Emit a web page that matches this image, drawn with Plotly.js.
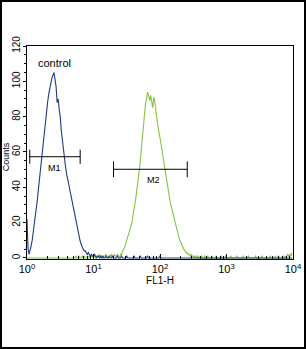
<!DOCTYPE html>
<html>
<head>
<meta charset="utf-8">
<script src="https://cdn.plot.ly/plotly-3.0.1.min.js"></script>
<style>
html,body{margin:0;padding:0;background:#fff;}
#frame{width:306px;height:349px;border:2px solid #000;box-sizing:border-box;}
#chart{width:302px;height:345px;}
</style>
</head>
<body>
<div id="frame"><div id="chart"></div></div>
<script>
// 256-channel histograms over 4 decades (channel i -> FL1-H = 10^(i/64))
const channelsPerDecade = 64;
const controlCounts = [
22,5,2,4,7,10,14,19,23,28,
33,39,45,50,56,62,68,73,79,84,
89,93,97,99,102,104,105,101,97,88,
90,84,80,72,66,62,57,52,48,45,
41,38,35,32,29,26,23,20,17,14,
12,10,8,6,5,4,4,3,2,3,
2,1,2,1,1,2,1,0,1,1,
0,1,0,1,0,0,1,0,0,1,
0,0,1,0,0,0,0,1,0,0,
0,1,0,0,0,0,1,0,0,0,
0,0,0,1,0,0,0,0,0,1,
0,0,0,0,0,0,1,0,0,0,
0,0,0,0,0,0,0,0,1,0,
0,0,0,0,0,0,0,0,0,0,
0,0,0,0,0,0,0,0,0,0,
0,0,0,0,0,0,0,0,0,0,
0,0,0,0,0,0,0,0,0,0,
0,0,0,0,0,0,0,0,0,0,
0,0,0,0,0,0,0,0,0,0,
0,0,0,0,0,0,0,0,0,0,
0,0,0,0,0,0,0,0,0,0,
0,0,0,0,0,0,0,0,0,0,
0,0,0,0,0,0,0,0,0,0,
0,0,0,0,0,0,0,0,0,0,
0,0,0,0,0,0,0,0,0,0,
0,0,0,0,0,0
];
const sampleCounts = [
0,0,0,0,0,0,0,0,0,0,
0,0,0,0,0,0,0,0,0,0,
0,0,0,0,0,0,0,0,0,0,
0,0,0,0,0,0,0,0,0,0,
0,0,0,0,0,0,0,1,0,0,
1,0,0,1,0,1,0,0,1,0,
1,0,1,1,0,1,0,1,1,0,
2,1,1,0,1,1,2,1,0,1,
1,2,1,1,2,1,1,2,1,0,
2,2,4,5,6,8,10,12,13,16,
18,20,24,27,31,35,40,44,49,55,
62,68,75,82,87,90,94,92,89,92,
88,85,91,89,83,78,75,71,68,65,
60,57,53,49,45,42,38,35,31,29,
26,23,21,19,17,14,12,10,9,7,
6,5,4,3,3,2,2,1,2,1,
1,0,1,1,0,1,0,0,1,0,
0,1,0,0,1,0,0,0,1,0,
0,0,1,0,0,0,0,1,0,0,
0,1,0,0,0,0,1,0,0,0,
0,0,1,0,0,0,0,0,1,0,
0,0,0,1,0,0,0,0,0,0,
1,0,0,0,0,0,1,0,0,0,
0,0,0,0,1,0,0,0,0,1,
0,0,1,0,0,0,1,0,1,0,
1,2,1,2,1,3
];
// marker gates
const gateNames = ["M1", "M2"];
const gateLow = [1.1, 20];
const gateHigh = [6.3, 257];
const gateLevel = [57.3, 50.2];
const gateCap = [4, 4.5];
// axis ticks
const xTickVals = [1, 10, 100, 1000, 10000];
const xTickText = ["10<sup>0</sup>", "10<sup>1</sup>", "10<sup>2</sup>", "10<sup>3</sup>", "10<sup>4</sup>"];
const yTickVals = [0, 20, 40, 60, 80, 100, 120];

const fl1 = controlCounts.map((_, i) => Math.pow(10, i / channelsPerDecade));
const minorX = [];
for (let d = 0; d < 4; d++) for (let m = 2; m <= 9; m++) minorX.push(m * Math.pow(10, d));

const FONT = 'Liberation Sans, Arial';
const traces = [
  {x: fl1, y: sampleCounts, type: 'scatter', mode: 'lines', name: 'sample',
   line: {color: '#86c440', width: 1.1}, hoverinfo: 'skip'},
  {x: fl1, y: controlCounts, type: 'scatter', mode: 'lines', name: 'control',
   line: {color: '#1f3a8e', width: 1.1}, hoverinfo: 'skip'}
];
const annotations = [
  {xref: 'x', yref: 'y', x: 0.135, y: 110.5, text: 'control', showarrow: false,
   xanchor: 'left', yanchor: 'middle', font: {family: FONT, size: 11, color: '#000'}},
  {xref: 'paper', yref: 'paper', x: -0.078, y: 0.479, text: 'Counts', showarrow: false,
   textangle: -90, xanchor: 'center', yanchor: 'middle', font: {family: FONT, size: 9, color: '#000'}}
];
const labelPos = [[0.41, 50.9], [1.9, 44.1]];
gateNames.forEach((g, k) => {
  const a = gateLow[k], b = gateHigh[k], yv = gateLevel[k], c = gateCap[k];
  traces.push({
    x: [a, a, null, a, b, null, b, b],
    y: [yv - c, yv + c, null, yv, yv, null, yv - c, yv + c],
    type: 'scatter', mode: 'lines', name: g, line: {color: '#000', width: 1}, hoverinfo: 'skip'
  });
  annotations.push({xref: 'x', yref: 'y', x: labelPos[k][0], y: labelPos[k][1], text: g,
    showarrow: false, xanchor: 'center', yanchor: 'middle',
    font: {family: FONT, size: 9, color: '#000'}});
});

const layout = {
  width: 302, height: 345,
  margin: {l: 25, r: 11, t: 44, b: 88, pad: 0},
  paper_bgcolor: '#fff', plot_bgcolor: '#fff',
  showlegend: false,
  font: {family: FONT, color: '#000'},
  xaxis: {
    type: 'log', range: [0, 4], tickmode: 'array', tickvals: xTickVals, ticktext: xTickText,
    ticks: 'inside', ticklen: 5, tickcolor: '#000', tickwidth: 1,
    minor: {tickmode: 'array', tickvals: minorX, ticks: 'inside', ticklen: 3, tickcolor: '#000', tickwidth: 1},
    showline: true, mirror: true, linecolor: '#000', linewidth: 1,
    showgrid: false, zeroline: false,
    tickfont: {size: 11, family: FONT},
    title: {text: 'FL1-H', font: {size: 10, family: FONT}, standoff: 0}
  },
  yaxis: {
    range: [-0.6, 120], tickmode: 'array', tickvals: yTickVals, tickangle: -90,
    ticks: 'outside', ticklen: 3, tickcolor: '#000', tickwidth: 1,
    ticklabelstandoff: -1,
    minor: {dtick: 5, ticks: 'outside', ticklen: 2, tickcolor: '#000', tickwidth: 1},
    showline: true, mirror: true, linecolor: '#000', linewidth: 1,
    showgrid: false, zeroline: false,
    tickfont: {size: 10, family: FONT}
  },
  annotations: annotations
};
Plotly.newPlot('chart', traces, layout, {staticPlot: true, displayModeBar: false});
</script>
</body>
</html>
